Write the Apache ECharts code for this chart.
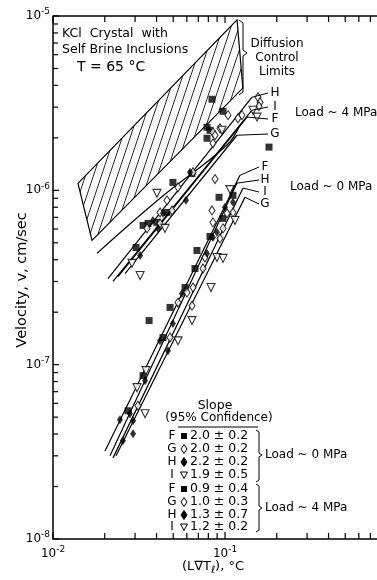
<!DOCTYPE html>
<html><head><meta charset="utf-8">
<script src="https://cdn.jsdelivr.net/npm/echarts@6/dist/echarts.min.js"></script>
<style>html,body{margin:0;padding:0;background:#fff}#c{width:377px;height:580px}</style>
</head><body><div id="c"></div>
<script>
const FONT = '"DejaVu Sans", sans-serif';

// ---- tick values ----
const X_MAJOR = [0.01, 0.1, 1];
const X_MINOR = [0.02,0.03,0.04,0.05,0.06,0.07,0.08,0.09,0.2,0.3,0.4,0.5,0.6,0.7,0.8,0.9];
const Y_MAJOR = [1e-8, 1e-7, 1e-6, 1e-5];
const Y_MINOR = [2e-8,3e-8,4e-8,5e-8,6e-8,7e-8,8e-8,9e-8,2e-7,3e-7,4e-7,5e-7,6e-7,7e-7,8e-7,9e-7,2e-6,3e-6,4e-6,5e-6,6e-6,7e-6,8e-6,9e-6];

// ---- Load ~ 4 MPa data ----
const F4 = [[0.0840,3.33e-6],[0.0974,2.84e-6],[0.0786,2.30e-6],[0.0818,2.21e-6],[0.0786,1.99e-6],[0.0498,1.11e-6],[0.0643,1.25e-6],[0.0460,7.47e-7],[0.0334,6.29e-7],[0.0357,6.46e-7],[0.0402,6.55e-7],[0.0304,4.70e-7]];
const G4 = [[0.1041,2.70e-6],[0.1556,3.42e-6],[0.1598,3.20e-6],[0.1577,3.04e-6],[0.1255,2.70e-6],[0.1190,2.59e-6],[0.0851,2.15e-6],[0.0875,2.07e-6],[0.0935,2.27e-6],[0.0851,1.86e-6],[0.0652,1.27e-6],[0.0533,1.04e-6],[0.0460,8.76e-7],[0.0419,7.47e-7],[0.0492,7.67e-7],[0.0352,6.05e-7],[0.0419,6.46e-7]];
const H4 = [[0.0626,1.27e-6],[0.0593,8.76e-7],[0.0436,7.38e-7],[0.0381,6.72e-7],[0.0408,6.05e-7],[0.0321,4.23e-7]];
const I4 = [[0.1455,2.88e-6],[0.1535,2.63e-6],[0.0961,2.21e-6],[0.0402,9.61e-7],[0.0448,6.05e-7],[0.0288,3.81e-7],[0.0321,3.25e-7]];

// ---- Load ~ 0 MPa data ----
const F0 = [[0.1803,1.77e-6],[0.0923,9.12e-7],[0.1113,9.36e-7],[0.0974,6.90e-7],[0.0818,5.44e-7],[0.0687,4.52e-7],[0.0669,3.56e-7],[0.0586,2.77e-7],[0.0479,2.13e-7],[0.0362,1.79e-7],[0.0436,1.43e-7],[0.0334,8.65e-8],[0.0273,5.44e-8]];
const G0 = [[0.0875,1.16e-6],[0.0840,7.67e-7],[0.1027,7.38e-7],[0.1113,7.47e-7],[0.0851,6.55e-7],[0.0974,6.05e-7],[0.0935,5.30e-7],[0.0765,4.12e-7],[0.0745,3.56e-7],[0.0652,2.77e-7],[0.0601,2.59e-7],[0.0533,2.27e-7],[0.0643,2.18e-7],[0.0479,1.43e-7],[0.0312,5.81e-8]];
const H0 = [[0.1113,8.53e-7],[0.1,7.99e-7],[0.0898,5.74e-7],[0.0851,5.37e-7],[0.0786,4.34e-7],[0.0562,2.56e-7],[0.0498,1.72e-7],[0.0419,1.37e-7],[0.0466,1.20e-7],[0.0343,8.09e-8],[0.0280,5.23e-8],[0.0292,4.77e-8],[0.0292,4.01e-8],[0.0245,4.83e-8],[0.0255,3.66e-8]];
const I0 = [[0.1069,1.01e-6],[0.1143,6.72e-7],[0.0898,4.12e-7],[0.0974,4.07e-7],[0.0829,2.77e-7],[0.0643,1.79e-7],[0.0533,1.37e-7],[0.0347,9.24e-8],[0.0308,7.38e-8],[0.0343,5.23e-8]];

// ---- fitted lines ----
const LINE_F0 = [[0.02006,3.20e-8],[0.1222,1.22e-6]];
const LINE_H0 = [[0.02145,3.00e-8],[0.1174,1.10e-6]];
const LINE_I0 = [[0.02234,2.92e-8],[0.1273,1.03e-6]];
const LINE_G0 = [[0.02325,3.00e-8],[0.1307,9.12e-7]];
const LINE_H4 = [[0.02088,3.12e-7],[0.1436,3.42e-6]];
const LINE_I4 = [[0.02234,3.00e-7],[0.1436,2.88e-6]];
const LINE_F4 = [[0.02388,3.20e-7],[0.1343,2.63e-6]];
const LINE_G4 = [[0.02623,3.33e-7],[0.1174,2.07e-6]];

// ---- diffusion control limits ----
const DIFF_ZONE = [[0.01397,1.097e-6],[0.1175,9.5e-6],[0.127,3.86e-6],[0.01686,5.16e-7]];
const DIFF_CURVE = [[0.01803,4.35e-7],[0.0419,9.0e-7],[0.1027,1.82e-6],[0.122,2.37e-6]];

// ---- legend table ----
const LEG_LETTERS = ['F','G','H','I','F','G','H','I'];
const LEG_SLOPES = ['2.0 ± 0.2','2.0 ± 0.2','2.2 ± 0.2','1.9 ± 0.5','0.9 ± 0.4','1.0 ± 0.3','1.3 ± 0.7','1.2 ± 0.2'];
const LEG_SYMBOLS = ['sq','od','fd','tri','sq','od','fd','tri'];

// hatch pattern
const pc = document.createElement('canvas');
pc.width = 8; pc.height = 24;
const pctx = pc.getContext('2d');
pctx.strokeStyle = '#111'; pctx.lineWidth = 0.9;
pctx.beginPath();
pctx.moveTo(-1, 27); pctx.lineTo(9, -3);
pctx.moveTo(-9, 27); pctx.lineTo(1, -3);
pctx.moveTo(7, 27); pctx.lineTo(17, -3);
pctx.stroke();

const chart = echarts.init(document.getElementById('c'), null, {renderer:'canvas'});

function supLabel(v){
  const e = Math.round(Math.log10(v));
  return '{n|10}{s|' + e + '}';
}
const richLab = {
  n:{fontSize:12, fontFamily:FONT, color:'#000'},
  s:{fontSize:9, fontFamily:FONT, color:'#000', padding:[0,0,8,0]}
};

function lineSeries(d){
  return {type:'line', data:d, symbol:'none', silent:true, lineStyle:{color:'#000', width:1.2}, z:3};
}
function scat(d, kind){
  const s = {type:'scatter', data:d, silent:true, z:5};
  if(kind==='sq'){ s.symbol='rect'; s.symbolSize=7; s.itemStyle={color:'#000'}; }
  if(kind==='od'){ s.symbol='diamond'; s.symbolSize=[6,9]; s.itemStyle={color:'#fff', borderColor:'#000', borderWidth:1.1}; }
  if(kind==='fd'){ s.symbol='diamond'; s.symbolSize=[6,9]; s.itemStyle={color:'#000'}; }
  if(kind==='tri'){ s.symbol='triangle'; s.symbolRotate=180; s.symbolSize=8; s.itemStyle={color:'#fff', borderColor:'#000', borderWidth:1.1}; }
  return s;
}
function tickSeries(vals, dir, len){
  return {
    type:'custom', silent:true, clip:false, z:6,
    data: vals.map(v => dir==='x' ? [v, 1e-8] : [0.01, v]),
    renderItem(params, api){
      const st = {stroke:'#000', lineWidth:1.2};
      if(dir==='x'){
        const v = api.value(0);
        const b = api.coord([v, 1e-8]), t = api.coord([v, 1e-5]);
        return {type:'group', children:[
          {type:'line', shape:{x1:b[0], y1:b[1], x2:b[0], y2:b[1]-len}, style:st},
          {type:'line', shape:{x1:t[0], y1:t[1], x2:t[0], y2:t[1]+len}, style:st}
        ]};
      } else {
        const v = api.value(1);
        const l = api.coord([0.01, v]);
        return {type:'line', shape:{x1:l[0], y1:l[1], x2:l[0]+len, y2:l[1]}, style:st};
      }
    }
  };
}

const option = {
  animation:false,
  backgroundColor:'#fff',
  grid:{left:53, right:-20, top:16, bottom:41, containLabel:false, outerBoundsMode:'none', show:false},
  xAxis:{type:'log', logBase:10, min:0.01, max:1,
    axisLine:{show:true, lineStyle:{color:'#000', width:1.5}}, axisTick:{show:false}, splitLine:{show:false}, minorTick:{show:false},
    axisLabel:{formatter:supLabel, rich:richLab, margin:6}},
  yAxis:{type:'log', logBase:10, min:1e-8, max:1e-5,
    axisLine:{show:true, lineStyle:{color:'#000', width:1.5}}, axisTick:{show:false}, splitLine:{show:false},
    axisLabel:{formatter:supLabel, rich:richLab, margin:3}},
  series:[
    {type:'custom', silent:true, z:1, data:DIFF_ZONE,
      renderItem(params, api){
        if(params.dataIndex!==0) return null;
        const pts = DIFF_ZONE.map(p => api.coord(p));
        return {type:'polygon', shape:{points:pts}, style:{fill:{image:pc, repeat:'repeat'}, stroke:'#000', lineWidth:1.2}};
      }},
    {type:'line', data:DIFF_CURVE, smooth:0.4, symbol:'none', silent:true, lineStyle:{color:'#000', width:1.2}, z:2},
    lineSeries(LINE_F0), lineSeries(LINE_H0), lineSeries(LINE_I0), lineSeries(LINE_G0),
    lineSeries(LINE_H4), lineSeries(LINE_I4), lineSeries(LINE_F4), lineSeries(LINE_G4),
    scat(F0,'sq'), scat(G0,'od'), scat(H0,'fd'), scat(I0,'tri'),
    scat(F4,'sq'), scat(G4,'od'), scat(H4,'fd'), scat(I4,'tri'),
    tickSeries(X_MAJOR,'x',7), tickSeries(X_MINOR,'x',6),
    tickSeries(Y_MAJOR,'y',6), tickSeries(Y_MINOR,'y',5),
    {type:'custom', silent:true, clip:false, z:6, data:[[0.01,1e-5]],
      renderItem(params, api){
        const a = api.coord([0.01,1e-5]), b = api.coord([1,1e-5]);
        return {type:'line', shape:{x1:a[0], y1:a[1], x2:b[0], y2:b[1]}, style:{stroke:'#000', lineWidth:1.5}};
      }}
  ]
};
chart.setOption(option);

// ---- annotations ----
function txt(s, x, y, size, align, extra){
  return Object.assign({type:'text', silent:true, z:10, style:Object.assign({text:s, x:x, y:y, fill:'#000',
    font: size+'px '+FONT, textAlign:align||'left', textVerticalAlign:'middle', align:align||'left', verticalAlign:'middle'}, extra||{})});
}
function seg(x1,y1,x2,y2,w){
  return {type:'line', silent:true, z:10, shape:{x1,y1,x2,y2}, style:{stroke:'#000', lineWidth:w||1}};
}
function poly(points){
  return {type:'polyline', silent:true, z:10, shape:{points}, style:{stroke:'#000', lineWidth:1, fill:null}};
}
const px = p => chart.convertToPixel({gridIndex:0}, p);
const g = [];
g.push(txt('KCl  Crystal  with', 62, 34, 12.5));
g.push(txt('Self Brine Inclusions', 62, 50, 12.5));
g.push(txt('T = 65 °C', 77, 67, 14));
g.push(txt('Diffusion', 277, 44, 12, 'center'));
g.push(txt('Control', 277, 58, 12, 'center'));
g.push(txt('Limits', 277, 72, 12, 'center'));
g.push(poly([[239,20],[243,23],[243,50],[247,53],[243,56],[243,92],[239,95]]));

// 4 MPa labels
const lab4 = [['H',LINE_H4,93],['I',LINE_I4,107],['F',LINE_F4,119],['G',LINE_G4,134]];
lab4.forEach(([l, line, y]) => {
  const e = px(line[1]);
  g.push(seg(e[0], e[1], 268, y, 1));
  g.push(txt(l, 275, y, 12, 'center'));
});
g.push(txt('Load ~ 4 MPa', 295, 113, 12));
// 0 MPa labels
const lab0 = [['F',LINE_F0,167],['H',LINE_H0,180],['I',LINE_I0,192],['G',LINE_G0,204]];
lab0.forEach(([l, line, y]) => {
  const e = px(line[1]);
  g.push(seg(e[0], e[1], 259, y, 1));
  g.push(txt(l, 265, y, 12, 'center'));
});
g.push(txt('Load ~ 0 MPa', 290, 187, 12));

// legend
g.push(txt('Slope', 215, 406, 12.5, 'center'));
g.push(txt('(95% Confidence)', 219, 418, 12, 'center'));
g.push(seg(178, 427, 258, 427, 1));
const rowY = [436,449,462,475,489,502,515,527];
LEG_LETTERS.forEach((l, i) => {
  const y = rowY[i];
  g.push(txt(l, 172, y, 12, 'center'));
  const k = LEG_SYMBOLS[i], cx = 184;
  if(k==='sq') g.push({type:'rect', silent:true, z:10, shape:{x:cx-3, y:y-3, width:6, height:6}, style:{fill:'#000'}});
  if(k==='od' || k==='fd') g.push({type:'polygon', silent:true, z:10, shape:{points:[[cx,y-4.5],[cx+3,y],[cx,y+4.5],[cx-3,y]]}, style:{fill:k==='fd'?'#000':'#fff', stroke:'#000', lineWidth:1}});
  if(k==='tri') g.push({type:'polygon', silent:true, z:10, shape:{points:[[cx-3.5,y-3],[cx+3.5,y-3],[cx,y+3.5]]}, style:{fill:'#fff', stroke:'#000', lineWidth:1}});
  g.push(txt(LEG_SLOPES[i], 190, y, 12.5));
});
g.push(poly([[256,430],[259,432],[259,453],[262,455],[259,457],[259,480],[256,482]]));
g.push(poly([[256,484],[259,486],[259,506],[262,508],[259,510],[259,530],[256,532]]));
g.push(txt('Load ~ 0 MPa', 265, 455, 12));
g.push(txt('Load ~ 4 MPa', 265, 508, 12));

// axis names
g.push({type:'text', silent:true, z:10, x:22, y:280, rotation:Math.PI/2,
  style:{text:'Velocity, v, cm/sec', x:0, y:0, fill:'#000', font:'14.5px '+FONT,
  textAlign:'center', textVerticalAlign:'middle', align:'center', verticalAlign:'middle'}});
g.push({type:'text', silent:true, z:10, style:{text:'(L∇T{b|ℓ}), °C', x:213, y:567, fill:'#000', font:'13px '+FONT,
  textAlign:'center', textVerticalAlign:'middle', align:'center', verticalAlign:'middle',
  rich:{b:{fontSize:10, fontFamily:FONT, padding:[6,0,0,0]}}}});

chart.setOption({graphic:g});
</script></body></html>
